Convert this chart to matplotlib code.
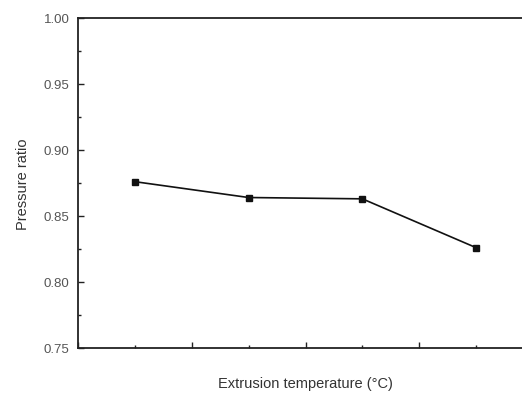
import matplotlib
matplotlib.use("Agg")
import matplotlib.pyplot as plt
from matplotlib.ticker import MultipleLocator, NullFormatter

# Data (x positions are ordinal temperature steps)
temperature_step = [1, 2, 3, 4]
pressure_ratio = [0.876, 0.864, 0.863, 0.826]

y_ticks = [0.75, 0.80, 0.85, 0.90, 0.95, 1.00]
y_tick_labels = ["0.75", "0.80", "0.85", "0.90", "0.95", "1.00"]

plt.rcParams['font.family'] = ['Liberation Sans', 'DejaVu Sans']

fig = plt.figure(figsize=(5.22, 4.02), dpi=100)
ax = fig.add_axes([78/522, 53/402, 455/522, 330/402])

ax.plot(temperature_step, pressure_ratio, color='#111111', lw=1.2,
        marker='s', ms=4.5, mfc='#111111', mec='#111111')

ax.set_xlim(0.5, 4.5)
ax.set_ylim(0.75, 1.00)
ax.set_yticks(y_ticks)
ax.set_yticklabels(y_tick_labels)
ax.yaxis.set_minor_locator(MultipleLocator(0.025))
ax.xaxis.set_major_locator(MultipleLocator(1.0, offset=0.5))
ax.xaxis.set_minor_locator(MultipleLocator(1.0))
ax.xaxis.set_major_formatter(NullFormatter())

ax.tick_params(which='major', direction='in', length=4, width=1, colors='#222222',
               labelsize=9.5, labelcolor='#555555', pad=6)
ax.tick_params(which='minor', direction='in', length=2, width=1, colors='#222222')
ax.tick_params(axis='x', which='both', top=False)
ax.tick_params(axis='y', which='both', right=False)

for s in ax.spines.values():
    s.set_linewidth(1.3)
    s.set_color('#222222')

ax.set_xlabel("Extrusion temperature (°C)", fontsize=10.5, color='#333333', labelpad=14)
ax.set_ylabel("Pressure ratio", fontsize=10.5, color='#333333', labelpad=10)

fig.savefig("out.png", dpi=100)
